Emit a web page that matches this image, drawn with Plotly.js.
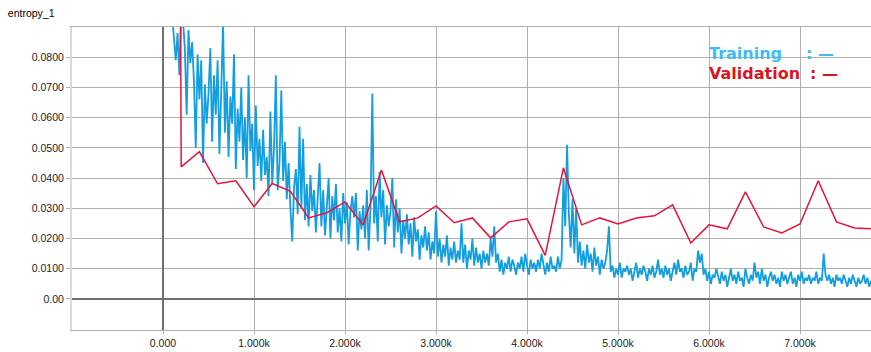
<!DOCTYPE html>
<html>
<head>
<meta charset="utf-8">
<script src="https://cdn.plot.ly/plotly-3.0.1.min.js"></script>
<style>
  html, body { margin: 0; padding: 0; background: #fff; }
  #chart { width: 871px; height: 352px; }
</style>
</head>
<body>
<div id="chart"></div>
<script>
// training loss, logged every 20 steps starting at step 100
var trainLoss = [
  0.094, 0.085, 0.079, 0.088, 0.074, 0.096, 0.092, 0.083, 0.061, 0.089,
  0.078, 0.085, 0.072, 0.050, 0.081, 0.066, 0.079, 0.045, 0.071, 0.058,
  0.068, 0.083, 0.052, 0.074, 0.061, 0.079, 0.048, 0.069, 0.092, 0.055,
  0.072, 0.047, 0.067, 0.058, 0.081, 0.043, 0.063, 0.052, 0.070, 0.046,
  0.060, 0.040, 0.074, 0.049, 0.058, 0.036, 0.064, 0.044, 0.053, 0.039,
  0.056, 0.041, 0.047, 0.034, 0.062, 0.038, 0.050, 0.074, 0.036, 0.045,
  0.069, 0.039, 0.052, 0.033, 0.045, 0.030, 0.019, 0.037, 0.043, 0.028,
  0.057, 0.030, 0.053, 0.026, 0.038, 0.024, 0.041, 0.029, 0.036, 0.022,
  0.033, 0.045, 0.024, 0.036, 0.021, 0.031, 0.040, 0.020, 0.034, 0.026,
  0.038, 0.022, 0.030, 0.019, 0.035, 0.025, 0.032, 0.018, 0.029, 0.034,
  0.027, 0.035, 0.016, 0.029, 0.023, 0.031, 0.020, 0.036, 0.016, 0.030,
  0.068, 0.025, 0.034, 0.019, 0.042, 0.027, 0.036, 0.018, 0.031, 0.024,
  0.029, 0.040, 0.017, 0.033, 0.022, 0.030, 0.015, 0.026, 0.020, 0.028,
  0.018, 0.025, 0.014, 0.027, 0.019, 0.023, 0.013, 0.021, 0.017, 0.024,
  0.016, 0.022, 0.013, 0.019, 0.015, 0.029, 0.014, 0.020, 0.012, 0.018,
  0.014, 0.021, 0.011, 0.017, 0.013, 0.019, 0.012, 0.016, 0.013, 0.025,
  0.012, 0.018, 0.010, 0.016, 0.013, 0.020, 0.011, 0.017, 0.012, 0.015,
  0.010, 0.016, 0.012, 0.015, 0.011, 0.020, 0.014, 0.024, 0.012, 0.015,
  0.009, 0.013, 0.008, 0.012, 0.010, 0.014, 0.009, 0.013, 0.011, 0.008,
  0.012, 0.010, 0.014, 0.009, 0.015, 0.011, 0.008, 0.013, 0.010, 0.012,
  0.009, 0.013, 0.010, 0.015, 0.011, 0.008, 0.012, 0.009, 0.014, 0.010,
  0.011, 0.009, 0.014, 0.010, 0.013, 0.040, 0.024, 0.051, 0.028, 0.017,
  0.033, 0.015, 0.030, 0.012, 0.019, 0.011, 0.016, 0.010, 0.018, 0.012,
  0.015, 0.009, 0.017, 0.011, 0.014, 0.008, 0.013, 0.010, 0.012, 0.016,
  0.024, 0.009, 0.011, 0.007, 0.010, 0.008, 0.012, 0.007, 0.010, 0.009,
  0.011, 0.008, 0.010, 0.006, 0.009, 0.012, 0.007, 0.010, 0.008, 0.011,
  0.009, 0.006, 0.010, 0.008, 0.011, 0.007, 0.009, 0.013, 0.008, 0.010,
  0.007, 0.011, 0.008, 0.010, 0.006, 0.009, 0.012, 0.008, 0.013, 0.009,
  0.010, 0.007, 0.011, 0.008, 0.009, 0.012, 0.006, 0.010, 0.009, 0.016,
  0.012, 0.015, 0.008, 0.010, 0.006, 0.009, 0.005, 0.008, 0.007, 0.010,
  0.007, 0.005, 0.009, 0.006, 0.008, 0.004, 0.007, 0.010, 0.006, 0.008,
  0.005, 0.009, 0.006, 0.007, 0.004, 0.010, 0.007, 0.005, 0.008, 0.006,
  0.012, 0.007, 0.009, 0.005, 0.010, 0.006, 0.008, 0.004, 0.007, 0.009,
  0.006, 0.008, 0.005, 0.007, 0.004, 0.009, 0.006, 0.008, 0.005, 0.007,
  0.009, 0.005, 0.007, 0.004, 0.008, 0.006, 0.009, 0.005, 0.007, 0.006,
  0.008, 0.005, 0.007, 0.006, 0.009, 0.005, 0.007, 0.006, 0.015, 0.008,
  0.006, 0.008, 0.005, 0.007, 0.004, 0.008, 0.006, 0.007, 0.005, 0.008,
  0.006, 0.004, 0.007, 0.005, 0.008, 0.006, 0.004, 0.007, 0.005, 0.006,
  0.008, 0.005, 0.007, 0.004, 0.006
];

// validation loss, every 200 steps starting at step 0
var valLoss = [
  1.5, 0.0437, 0.0487, 0.0381, 0.0391, 0.0305, 0.0382, 0.0356, 0.0268, 0.0285,
  0.0321, 0.0245, 0.0427, 0.0255, 0.0268, 0.0308, 0.0252, 0.0268, 0.0202, 0.0255,
  0.0265, 0.0144, 0.0434, 0.0245, 0.0268, 0.0248, 0.0268, 0.0275, 0.0311, 0.0185,
  0.0245, 0.0232, 0.0354, 0.0238, 0.0218, 0.0248, 0.0391, 0.0255, 0.0235, 0.0232
];

var xTickVals = [0, 1000, 2000, 3000, 4000, 5000, 6000, 7000];
var xTickText = ["0.000", "1.000k", "2.000k", "3.000k", "4.000k", "5.000k", "6.000k", "7.000k"];
var yTickVals = [0, 0.01, 0.02, 0.03, 0.04, 0.05, 0.06, 0.07, 0.08];
var yTickText = ["0.00", "0.0100", "0.0200", "0.0300", "0.0400", "0.0500", "0.0600", "0.0700", "0.0800"];

var tickFont = {family: "Liberation Sans, Arial, sans-serif", size: 10.5, color: "#222"};
var legendFont = {family: "DejaVu Sans, sans-serif", size: 16, weight: "bold"};

var traces = [
  {
    y: trainLoss, x0: 100, dx: 20,
    type: "scatter", mode: "lines",
    line: {color: "#139ee0", width: 1.8},
    name: "Training"
  },
  {
    y: valLoss, x0: 0, dx: 200,
    type: "scatter", mode: "lines",
    line: {color: "#e8133b", width: 1.5},
    name: "Validation"
  }
];

var layout = {
  width: 871, height: 352,
  margin: {l: 72, r: 0, t: 27, b: 22},
  paper_bgcolor: "#fff", plot_bgcolor: "#fff",
  showlegend: false,
  title: {
    text: "entropy_1", x: 0.009, xanchor: "left", y: 0.962, yanchor: "middle",
    font: {family: "Liberation Sans, Arial, sans-serif", size: 10.5, color: "#000"}
  },
  xaxis: {
    range: [-1000, 7780],
    tickvals: xTickVals, ticktext: xTickText,
    tickfont: tickFont,
    showgrid: true, gridcolor: "#b0b0b0", gridwidth: 1,
    zeroline: true, zerolinecolor: "#707070", zerolinewidth: 2,
    showline: true, linecolor: "#b0b0b0", linewidth: 1, mirror: true,
    ticks: "outside", ticklen: 3, tickcolor: "#b0b0b0"
  },
  yaxis: {
    range: [-0.0103, 0.09],
    tickvals: yTickVals, ticktext: yTickText,
    tickfont: tickFont,
    showgrid: true, gridcolor: "#b0b0b0", gridwidth: 1,
    zeroline: true, zerolinecolor: "#707070", zerolinewidth: 2,
    showline: true, linecolor: "#dadada", linewidth: 2,
    ticks: "outside", ticklen: 4, tickcolor: "#b0b0b0"
  },
  annotations: [
    {xref: "paper", yref: "paper", x: 0.795, y: 0.911, xanchor: "left", yanchor: "middle",
     text: "Training", showarrow: false, font: Object.assign({color: "#3dbdf0"}, legendFont)},
    {xref: "paper", yref: "paper", x: 0.916, y: 0.911, xanchor: "left", yanchor: "middle",
     text: ": \u2014", showarrow: false, font: Object.assign({color: "#3dbdf0"}, legendFont)},
    {xref: "paper", yref: "paper", x: 0.795, y: 0.848, xanchor: "left", yanchor: "middle",
     text: "Validation", showarrow: false, font: Object.assign({color: "#dc1420"}, legendFont)},
    {xref: "paper", yref: "paper", x: 0.921, y: 0.848, xanchor: "left", yanchor: "middle",
     text: ": \u2014", showarrow: false, font: Object.assign({color: "#dc1420"}, legendFont)}
  ]
};

Plotly.newPlot("chart", traces, layout, {displayModeBar: false, staticPlot: true});
</script>
</body>
</html>
